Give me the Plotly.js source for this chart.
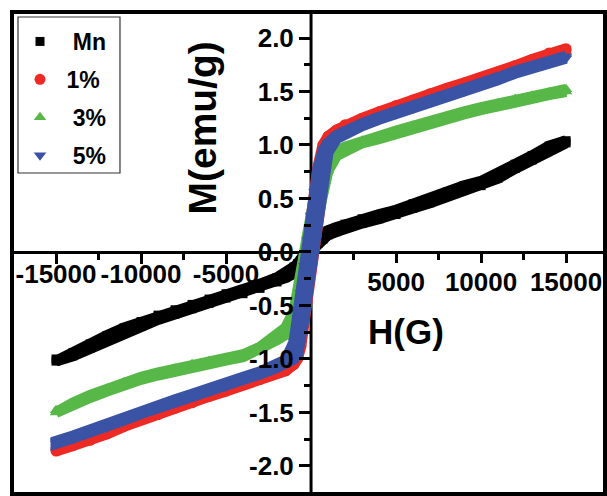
<!DOCTYPE html>
<html>
<head>
<meta charset="utf-8">
<script src="https://cdn.plot.ly/plotly-3.0.1.min.js"></script>
<style>html,body{margin:0;padding:0;background:#fff}#chart{width:607px;height:496px}</style>
</head>
<body>
<div id="chart"></div>
<script>
// Applied field H (G), descending branch order
const H = [15000, 14000, 13000, 12000, 11000, 10000, 9000, 8000, 7000, 6000, 5000, 4000, 3000, 2000, 1500, 1000, 700, 400, 200, 0, -200, -400, -600, -800, -1000, -1500, -2000, -3000, -4000, -5000, -6000, -7000, -8000, -9000, -10000, -11000, -12000, -13000, -14000, -15000];

// Magnetization M (emu/g): descending branch (Down) and ascending branch (Up), given at the H values above
const mnDown = [1.04, 0.99, 0.90, 0.82, 0.73, 0.66, 0.62, 0.56, 0.50, 0.45, 0.39, 0.35, 0.31, 0.26, 0.23, 0.20, 0.17, 0.14, 0.10, 0.06, 0.01, -0.04, -0.08, -0.11, -0.14, -0.20, -0.24, -0.30, -0.35, -0.39, -0.44, -0.49, -0.54, -0.59, -0.65, -0.71, -0.78, -0.86, -0.94, -1.00];
const mnUp   = [1.02, 0.95, 0.86, 0.78, 0.69, 0.62, 0.58, 0.52, 0.46, 0.41, 0.35, 0.31, 0.27, 0.22, 0.19, 0.16, 0.12, 0.08, 0.04, -0.02, -0.07, -0.10, -0.14, -0.17, -0.20, -0.24, -0.28, -0.34, -0.39, -0.43, -0.48, -0.53, -0.58, -0.63, -0.69, -0.75, -0.82, -0.90, -0.97, -1.02];

const p1Down = [1.90, 1.86, 1.80, 1.74, 1.68, 1.63, 1.58, 1.53, 1.48, 1.42, 1.37, 1.31, 1.25, 1.19, 1.14, 1.08, 1.00, 0.79, 0.57, 0.35, 0.12, -0.13, -0.40, -0.65, -0.88, -1.06, -1.11, -1.17, -1.22, -1.28, -1.33, -1.39, -1.44, -1.50, -1.55, -1.61, -1.68, -1.74, -1.79, -1.84];
const p1Up   = [1.88, 1.84, 1.78, 1.71, 1.66, 1.61, 1.56, 1.51, 1.45, 1.40, 1.35, 1.29, 1.23, 1.15, 1.10, 0.95, 0.68, 0.35, 0.12, -0.13, -0.40, -0.65, -0.88, -1.00, -1.05, -1.11, -1.13, -1.19, -1.24, -1.30, -1.35, -1.41, -1.46, -1.52, -1.57, -1.63, -1.70, -1.76, -1.81, -1.86];

const p3Down = [1.52, 1.49, 1.46, 1.43, 1.39, 1.35, 1.31, 1.27, 1.22, 1.18, 1.13, 1.08, 1.04, 0.98, 0.94, 0.87, 0.80, 0.66, 0.52, 0.33, 0.17, -0.02, -0.22, -0.40, -0.55, -0.71, -0.78, -0.89, -0.96, -0.99, -1.02, -1.05, -1.09, -1.13, -1.17, -1.22, -1.28, -1.34, -1.41, -1.48];
const p3Up   = [1.50, 1.47, 1.44, 1.41, 1.37, 1.33, 1.29, 1.25, 1.20, 1.16, 1.11, 1.06, 1.02, 0.95, 0.90, 0.76, 0.58, 0.33, 0.17, -0.02, -0.22, -0.40, -0.55, -0.65, -0.70, -0.77, -0.82, -0.91, -0.98, -1.01, -1.04, -1.07, -1.11, -1.15, -1.19, -1.24, -1.30, -1.36, -1.43, -1.50];

const p5Down = [1.83, 1.79, 1.74, 1.69, 1.63, 1.58, 1.52, 1.47, 1.42, 1.36, 1.31, 1.26, 1.20, 1.14, 1.09, 1.02, 0.95, 0.77, 0.56, 0.34, 0.11, -0.13, -0.38, -0.62, -0.84, -1.01, -1.05, -1.12, -1.17, -1.23, -1.28, -1.33, -1.38, -1.44, -1.49, -1.55, -1.62, -1.67, -1.72, -1.77];
const p5Up   = [1.81, 1.77, 1.72, 1.67, 1.61, 1.56, 1.50, 1.45, 1.40, 1.34, 1.29, 1.24, 1.18, 1.11, 1.06, 0.93, 0.66, 0.34, 0.11, -0.13, -0.38, -0.62, -0.84, -0.96, -1.00, -1.05, -1.08, -1.14, -1.19, -1.25, -1.30, -1.35, -1.40, -1.46, -1.51, -1.57, -1.64, -1.69, -1.74, -1.79];

const seriesNames = ['\u00a0\u00a0Mn', '\u00a01%', '\u00a0\u00a03%', '\u00a0\u00a05%'];
const xTicksNeg = [-15000, -10000, -5000];
const xTicksPos = [5000, 10000, 15000];
const yTicks = [-2.0, -1.5, -1.0, -0.5, 0.0, 0.5, 1.0, 1.5, 2.0];

const loopX = H.concat(H.slice().reverse());
function loopY(down, up) { return down.concat(up.slice().reverse()); }

const seriesDefs = [
  {name: seriesNames[0], down: mnDown, up: mnUp, color: '#000000', symbol: 'square', size: 9},
  {name: seriesNames[1], down: p1Down, up: p1Up, color: '#ee2a24', symbol: 'circle', size: 11},
  {name: seriesNames[2], down: p3Down, up: p3Up, color: '#57b848', symbol: 'triangle-up', size: 11},
  {name: seriesNames[3], down: p5Down, up: p5Up, color: '#3a53a4', symbol: 'triangle-down', size: 11}
];

const traces = [];
seriesDefs.forEach((s, i) => {
  const yy = loopY(s.down, s.up);
  traces.push({
    x: loopX, y: yy, type: 'scatter', mode: 'lines',
    line: {color: s.color, width: 11},
    legendgroup: 'g' + i, showlegend: false, hoverinfo: 'skip'
  });
  traces.push({
    x: loopX, y: yy, type: 'scatter', mode: 'markers',
    name: s.name, legendgroup: 'g' + i,
    marker: {color: s.color, symbol: s.symbol, size: s.size, line: {width: 0}},
    xaxis: i === 3 ? 'x2' : 'x'
  });
});

const xRange = [-17590, 17290];
const yRange = [-2.262, 2.243];
const xPos = (0 - yRange[0]) / (yRange[1] - yRange[0]);
const yPos = (0 - xRange[0]) / (xRange[1] - xRange[0]);

const tickFont = {family: 'Liberation Sans', size: 26, weight: 'bold', color: '#000'};

const layout = {
  width: 607, height: 496,
  margin: {l: 12, r: 2, t: 12, b: 2},
  paper_bgcolor: '#fff', plot_bgcolor: '#fff',
  showlegend: true,
  legend: {
    x: 0.0135, y: 0.9834, xanchor: 'left', yanchor: 'top',
    bgcolor: 'rgba(0,0,0,0)', borderwidth: 0,
    font: {family: 'Liberation Sans', size: 23, weight: 'bold', color: '#000'},
    tracegroupgap: 5, traceorder: 'grouped'
  },
  xaxis: {
    range: xRange, anchor: 'free', position: xPos,
    showgrid: false, zeroline: false, showline: true, linecolor: '#000', linewidth: 3,
    ticks: 'outside', ticklen: 10, tickwidth: 3, tickcolor: '#000',
    tickmode: 'array', tickvals: xTicksNeg, ticktext: xTicksNeg.map(String),
    tickfont: tickFont, ticklabelstandoff: -12, tickangle: 0, layer: 'below traces',
    minor: {ticks: 'outside', ticklen: 6, tickwidth: 3, tickcolor: '#000', tickvals: [-12500, -7500, -2500, 2500, 7500, 12500], showgrid: false}
  },
  xaxis2: {
    range: xRange, overlaying: 'x', anchor: 'free', position: xPos,
    showgrid: false, zeroline: false, showline: false,
    ticks: 'outside', ticklen: 10, tickwidth: 3, tickcolor: '#000',
    tickmode: 'array', tickvals: xTicksPos, ticktext: xTicksPos.map(String),
    tickfont: tickFont, ticklabelstandoff: -3, tickangle: 0, layer: 'below traces'
  },
  yaxis: {
    range: yRange, anchor: 'free', position: yPos,
    showgrid: false, zeroline: false, showline: false,
    ticks: 'outside', ticklen: 12, tickwidth: 3, tickcolor: '#000',
    tickmode: 'array', tickvals: yTicks, ticktext: yTicks.map(v => v.toFixed(1)),
    tickfont: tickFont, layer: 'above traces',
    minor: {ticks: 'outside', ticklen: 7, tickwidth: 3, tickcolor: '#000', tickvals: [-1.75, -1.25, -0.75, -0.25, 0.25, 0.75, 1.25, 1.75], showgrid: false}
  },
  shapes: [
    // vertical axis line (x = 0), kept below the data bands
    {type: 'line', xref: 'x', yref: 'paper', x0: 0, x1: 0, y0: 0, y1: 1, line: {color: '#000', width: 3}, layer: 'below'},
    {type: 'rect', xref: 'paper', yref: 'paper', x0: 0, x1: 1, y0: 0, y1: 1, line: {color: '#000', width: 4}, layer: 'above'},
    {type: 'rect', xref: 'paper', yref: 'paper', x0: 0.0101, x1: 0.1821, y0: 0.666, y1: 0.9896, line: {color: '#333', width: 1.2}, layer: 'above'}
  ],
  annotations: [
    {text: 'M(emu/g)', xref: 'paper', yref: 'paper', x: 0.3204, y: 0.7604, xanchor: 'center', yanchor: 'middle', textangle: -90, showarrow: false,
     font: {family: 'Liberation Sans', size: 39, weight: 'bold', color: '#000'}},
    {text: 'H(G)', xref: 'paper', yref: 'paper', x: 0.6644, y: 0.3375, xanchor: 'center', yanchor: 'middle', showarrow: false,
     font: {family: 'Liberation Sans', size: 35, weight: 'bold', color: '#000'}}
  ]
};

Plotly.newPlot('chart', traces, layout, {displayModeBar: false, staticPlot: true});
</script>
</body>
</html>
